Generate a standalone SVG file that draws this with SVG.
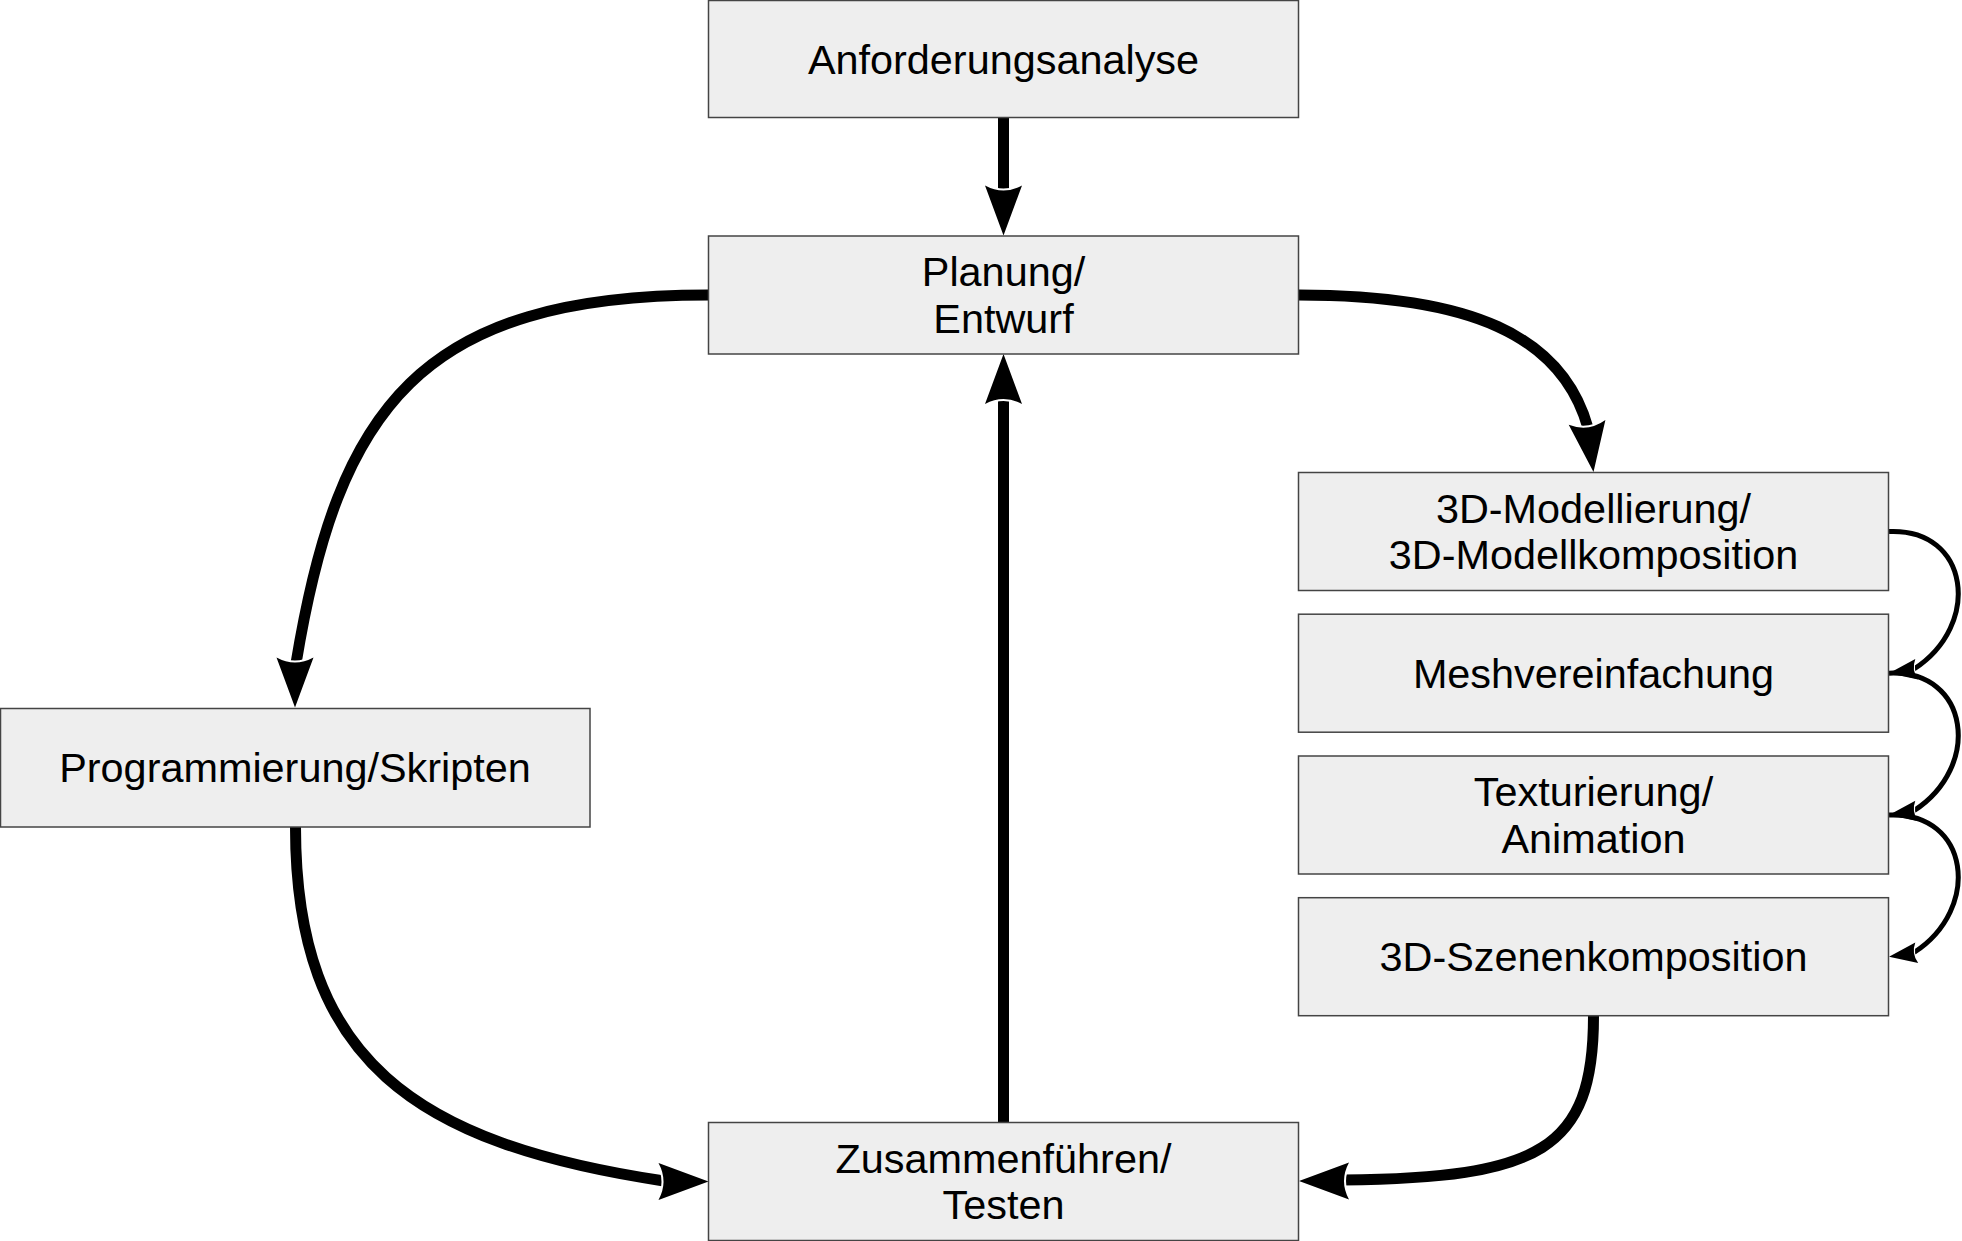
<svg xmlns="http://www.w3.org/2000/svg" xmlns:xlink="http://www.w3.org/1999/xlink" width="1962" height="1241" viewBox="0 0 1962 1241">
<style>
.box{fill:#eeeeee;stroke:#444444;stroke-width:1.5}
.lbl{font-family:"Liberation Sans",Arial,sans-serif;font-size:41.4px;fill:#000;text-anchor:middle}
.thick{fill:none;stroke:#000;stroke-width:11}
.thin{fill:none;stroke:#000;stroke-width:5}
</style>
<defs>
<g id="ah">
<path d="M-50,-18.5 Q-40,0 -50,18.5" fill="none" stroke="#fff" stroke-width="4"/>
<path d="M0,0 L-50,-18.5 Q-40,0 -50,18.5 Z" fill="#000"/>
</g>
</defs>
<rect width="1962" height="1241" fill="#fff"/>
<g id="connectors">
<path class="thick" d="M1003.5,117.5 L1003.5,191.5"/>
<use xlink:href="#ah" transform="translate(1003.5,235.5) rotate(90)"/>
<path class="thick" d="M1003.5,1122 L1003.5,398"/>
<use xlink:href="#ah" transform="translate(1003.5,354) rotate(-90)"/>
<path class="thick" d="M708.5,295 C420,295 338,408 296,663.5"/>
<use xlink:href="#ah" transform="translate(295,707.5) rotate(90)"/>
<path class="thick" d="M1298.5,295 C1470,295 1562,335 1588,428"/>
<use xlink:href="#ah" transform="translate(1593.5,472) rotate(82.6)"/>
<path class="thick" d="M295.5,827 C295.5,1060 414.5,1143.5 664,1181"/>
<use xlink:href="#ah" transform="translate(708.5,1181.5)"/>
<path class="thick" d="M1593.5,1016 C1593.5,1150 1540,1178 1343,1180"/>
<use xlink:href="#ah" transform="translate(1299,1181) rotate(180)"/>
<path class="thin" d="M1889,531.5 C1970,528 1982,625 1914,669"/>
<use xlink:href="#ah" transform="translate(1889,673.2) rotate(172) scale(0.56)"/>
<path class="thin" d="M1889,673.2 C1970,669.7 1982,766.7 1914,810.7"/>
<use xlink:href="#ah" transform="translate(1889,815) rotate(172) scale(0.56)"/>
<path class="thin" d="M1889,815 C1970,811.5 1982,908.5 1914,952.5"/>
<use xlink:href="#ah" transform="translate(1889,956.7) rotate(172) scale(0.56)"/>
</g>
<g id="n1"><rect class="box" x="708.5" y="0.5" width="590" height="117"/><text class="lbl" x="1003.5" y="73.5">Anforderungsanalyse</text></g>
<g id="n2"><rect class="box" x="708.5" y="236" width="590" height="118"/><text class="lbl" x="1003.5" y="286">Planung/</text><text class="lbl" x="1003.5" y="332.5">Entwurf</text></g>
<g id="n3"><rect class="box" x="0.5" y="708.5" width="589.5" height="118.5"/><text class="lbl" x="295" y="782.3">Programmierung/Skripten</text></g>
<g id="n4"><rect class="box" x="708.5" y="1122.5" width="590" height="118"/><text class="lbl" x="1003.5" y="1172.5">Zusammenführen/</text><text class="lbl" x="1003.5" y="1219">Testen</text></g>
<g id="n5"><rect class="box" x="1298.5" y="472.5" width="590" height="118"/><text class="lbl" x="1593.5" y="522.5">3D-Modellierung/</text><text class="lbl" x="1593.5" y="569">3D-Modellkomposition</text></g>
<g id="n6"><rect class="box" x="1298.5" y="614.2" width="590" height="118"/><text class="lbl" x="1593.5" y="687.8">Meshvereinfachung</text></g>
<g id="n7"><rect class="box" x="1298.5" y="756" width="590" height="118"/><text class="lbl" x="1593.5" y="806">Texturierung/</text><text class="lbl" x="1593.5" y="852.5">Animation</text></g>
<g id="n8"><rect class="box" x="1298.5" y="897.7" width="590" height="118"/><text class="lbl" x="1593.5" y="971.3">3D-Szenenkomposition</text></g>
</svg>
